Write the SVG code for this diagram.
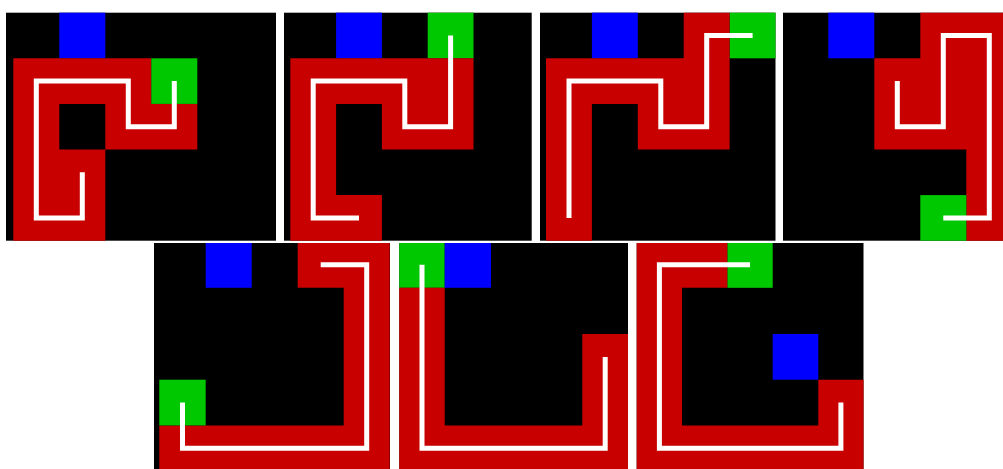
<svg xmlns="http://www.w3.org/2000/svg" width="1003" height="469" viewBox="0 0 1003 469">
<style>
.bg{fill:#000000}
.body{fill:#c80000}
.head{fill:#00c800}
.food{fill:#0000ff}
.trail{fill:none;stroke:#ffffff;stroke-width:5;stroke-linecap:butt;stroke-linejoin:miter}
</style>
<rect x="0" y="0" width="1003" height="469" fill="#ffffff"/>
<g id="panel1">
<rect class="bg" x="6" y="12.7" width="270" height="228"/>
<rect class="food" x="59.3" y="12.7" width="46" height="45.6"/>
<path class="body" fill-rule="evenodd" d="M13.3,58.3 H151.3 V103.9 H197.3 V149.5 H105.3 V240.7 H13.3 Z M59.3,103.9 H105.3 V149.5 H59.3 Z"/>
<rect class="head" x="151.3" y="58.3" width="46" height="45.6"/>
<path class="trail" d="M82.3,172.3 V217.9 H36.3 V81.1 H128.3 V126.7 H174.3 V81.1"/>
</g>
<g id="panel2">
<rect class="bg" x="284" y="12.7" width="247.7" height="228"/>
<rect class="food" x="336.1" y="12.7" width="45.8" height="45.6"/>
<rect class="head" x="427.7" y="12.7" width="45.8" height="45.6"/>
<path class="body" d="M290.3,58.3 H473.5 V149.5 H381.9 V103.9 H336.1 V195.1 H381.9 V240.7 H290.3 Z"/>
<path class="trail" d="M450.6,35.5 V126.7 H404.8 V81.1 H313.2 V217.9 H359"/>
</g>
<g id="panel3">
<rect class="bg" x="540" y="12.7" width="235.5" height="228"/>
<rect class="food" x="591.9" y="12.7" width="45.9" height="45.6"/>
<rect class="head" x="729.6" y="12.7" width="45.9" height="45.6"/>
<path class="body" d="M683.7,12.7 H729.6 V149.5 H637.8 V103.9 H591.9 V240.7 H546 V58.3 H683.7 Z"/>
<path class="trail" d="M752.6,35.5 H706.7 V126.7 H660.8 V81.1 H569 V217.9"/>
</g>
<g id="panel4">
<rect class="bg" x="783" y="12.7" width="220" height="228"/>
<rect class="food" x="828.3" y="12.7" width="46" height="45.6"/>
<path class="body" d="M920.3,12.7 H1003 V240.7 H966.3 V149.5 H874.3 V58.3 H920.3 Z"/>
<rect class="head" x="920.3" y="195.1" width="46" height="45.6"/>
<path class="trail" d="M897.3,81.1 V126.7 H943.3 V35.5 H989.3 V217.9 H943.3"/>
</g>
<g id="panel5">
<rect class="bg" x="154" y="243" width="236" height="226"/>
<rect class="food" x="205.7" y="243" width="46" height="44.8"/>
<path class="body" d="M297.7,243 H389.7 V469 H159.3 V425.4 H343.7 V287.8 H297.7 Z"/>
<rect class="head" x="159.3" y="379.7" width="46.4" height="45.7"/>
<path class="trail" d="M320.7,264.7 H366.7 V448.2 H182.5 V402.5"/>
</g>
<g id="panel6">
<rect class="bg" x="399.3" y="243" width="228.7" height="226"/>
<rect class="head" x="399.3" y="243" width="45.4" height="44.8"/>
<rect class="food" x="444.7" y="243" width="46.3" height="44.8"/>
<path class="body" d="M399.3,287.8 H444.7 V425.4 H582.3 V334 H628 V469 H399.3 Z"/>
<path class="trail" d="M605.2,356.9 V448.2 H422 V264.7"/>
</g>
<g id="panel7">
<rect class="bg" x="636.7" y="243" width="226.8" height="226"/>
<rect class="head" x="727.3" y="243" width="45.4" height="44.8"/>
<rect class="food" x="772.7" y="334" width="45.6" height="45.7"/>
<path class="body" d="M636.7,243 H727.3 V287.8 H682 V425.4 H818.3 V379.7 H863.5 V469 H636.7 Z"/>
<path class="trail" d="M750,264.7 H659.4 V448.2 H840.9 V402.5"/>
</g>
</svg>
